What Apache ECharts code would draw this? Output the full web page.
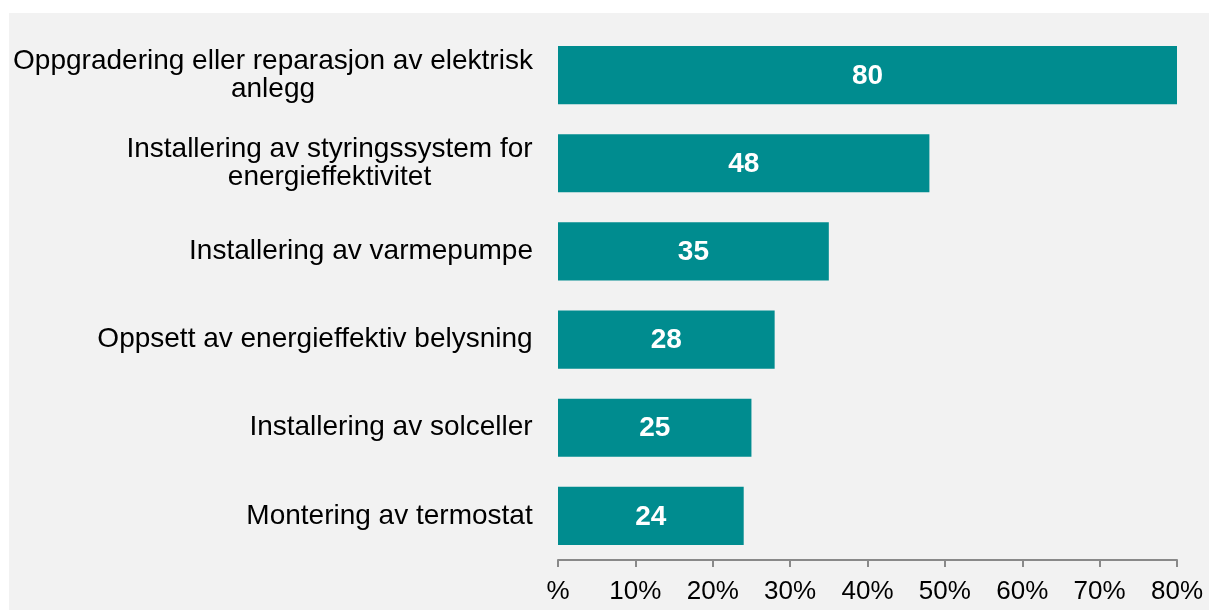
<!DOCTYPE html>
<html>
<head>
<meta charset="utf-8">
<script src="https://cdn.jsdelivr.net/npm/echarts@6/dist/echarts.min.js"></script>
<style>
  html, body { margin: 0; padding: 0; background: #ffffff; }
  #chart {
    position: absolute;
    left: 9px;
    top: 13px;
    width: 1200px;
    height: 597px;
    background-color: #f2f2f2;
  }
</style>
</head>
<body>
<div id="chart"></div>
<script>
// kategorier (ovenfra og ned)
var categories = [
  'Oppgradering eller reparasjon av elektrisk\nanlegg',
  'Installering av styringssystem for\nenergieffektivitet',
  'Installering av varmepumpe',
  'Oppsett av energieffektiv belysning',
  'Installering av solceller',
  'Montering av termostat'
];
var values = [80, 48, 35, 28, 25, 24];
var tickLabels = ['%', '10%', '20%', '30%', '40%', '50%', '60%', '70%', '80%'];

var labelFont = '28px "Liberation Sans"';

// linjene i hver etikett sentreres innenfor blokken (blokken er høyrejustert)
var ctx = document.createElement('canvas').getContext('2d');
ctx.font = labelFont;
var rich = {};
categories.forEach(function (c, i) {
  var w = 0;
  c.split('\n').forEach(function (line) {
    w = Math.max(w, ctx.measureText(line).width);
  });
  rich['c' + i] = {
    width: Math.ceil(w),
    align: 'center',
    fontSize: 28,
    fontFamily: 'Liberation Sans',
    lineHeight: 28,
    color: '#000'
  };
});

var chart = echarts.init(document.getElementById('chart'));
var option = {
  animation: false,
  grid: {
    left: 549,
    right: 32,
    top: 18,
    height: 529
  },
  xAxis: {
    type: 'value',
    min: 0,
    max: 80,
    interval: 10,
    splitLine: { show: false },
    axisLine: { show: true, lineStyle: { color: '#898989', width: 2 } },
    axisTick: { show: true, length: 7, lineStyle: { color: '#898989', width: 2 } },
    axisLabel: {
      color: '#000',
      fontSize: 26,
      fontFamily: 'Liberation Sans',
      margin: 19,
      formatter: function (v) {
        return tickLabels[Math.round(v / 10)];
      }
    }
  },
  yAxis: {
    type: 'category',
    inverse: true,
    data: categories,
    axisLine: { show: false },
    axisTick: { show: false },
    axisLabel: {
      color: '#000',
      fontSize: 28,
      fontFamily: 'Liberation Sans',
      lineHeight: 28,
      align: 'right',
      margin: 25,
      rich: rich,
      formatter: function (value, index) {
        return value.split('\n').map(function (line) {
          return '{c' + index + '|' + line + '}';
        }).join('\n');
      }
    }
  },
  series: [
    {
      type: 'bar',
      data: values,
      barCategoryGap: '34%',
      itemStyle: { color: '#008c8f' },
      label: {
        show: true,
        position: 'inside',
        offset: [0, 1],
        color: '#fff',
        fontSize: 28,
        fontWeight: 'bold',
        fontFamily: 'Liberation Sans'
      }
    }
  ]
};
chart.setOption(option);
</script>
</body>
</html>
